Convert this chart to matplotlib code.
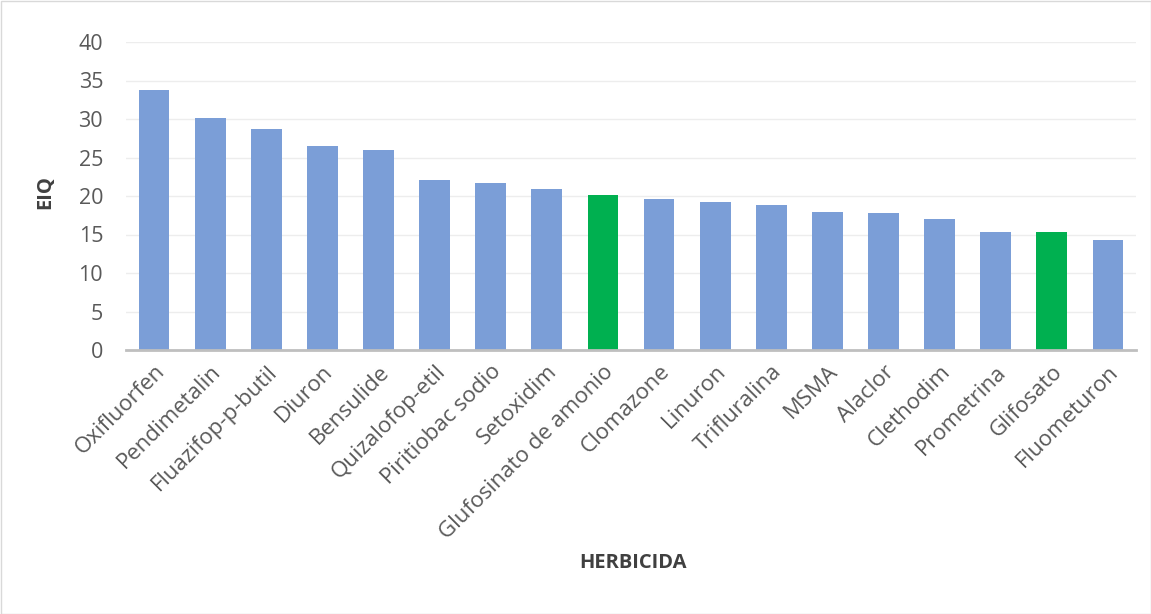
import matplotlib
matplotlib.use('Agg')
import matplotlib.pyplot as plt
from matplotlib.patches import Rectangle

# data
herbicidas = ['Oxifluorfen', 'Pendimetalin', 'Fluazifop-p-butil', 'Diuron', 'Bensulide',
              'Quizalofop-etil', 'Piritiobac sodio', 'Setoxidim', 'Glufosinato de amonio',
              'Clomazone', 'Linuron', 'Trifluralina', 'MSMA', 'Alaclor', 'Clethodim',
              'Prometrina', 'Glifosato', 'Fluometuron']
eiq = [33.8, 30.1, 28.7, 26.45, 26.0, 22.1, 21.65, 20.87, 20.13, 19.57, 19.26,
       18.79, 17.92, 17.79, 16.97, 15.32, 15.32, 14.24]
destacados = ['Glufosinato de amonio', 'Glifosato']

plt.rcParams['font.family'] = ['Open Sans', 'DejaVu Sans']

fig = plt.figure(figsize=(11.51, 6.14), dpi=100)
fig.patches.append(Rectangle((0.5/1151, 0.5/614), 1 - 1/1151, 1 - 1/614, transform=fig.transFigure,
                             fill=False, edgecolor='#D9D9D9', linewidth=1))
ax = fig.add_axes([126/1151, 1 - 350/614, (1136 - 126)/1151, (350 - 42)/614])

colors = ['#00B050' if h in destacados else '#7B9ED7' for h in herbicidas]
ax.bar(range(len(herbicidas)), eiq, width=0.55, color=colors, zorder=3)

ax.set_ylim(0, 40)
ax.set_xlim(-0.5, len(herbicidas) - 0.5)
ax.set_yticks(range(0, 41, 5))
ax.grid(axis='y', color='#EDEDED', linewidth=1, zorder=0)
for s in ['top', 'right', 'left']:
    ax.spines[s].set_visible(False)
ax.spines['bottom'].set_color('#BFBFBF')
ax.spines['bottom'].set_linewidth(2)
ax.spines['bottom'].set_zorder(4)
ax.tick_params(axis='both', length=0, colors='#595959', labelsize=15.5)
ax.tick_params(axis='y', pad=16.5)
ax.set_xticks(range(len(herbicidas)))
ax.set_xticklabels(herbicidas, rotation=45, ha='right', rotation_mode='anchor', fontsize=16)
ax.tick_params(axis='x', pad=8)

fig.text(45/1151, 1 - 192/614, 'EIQ', rotation=90, ha='center', va='center',
         fontsize=14.5, fontweight='bold', color='#404040')
fig.text(633/1151, 1 - 563/614, 'HERBICIDA', ha='center', va='center',
         fontsize=14.5, fontweight='bold', color='#404040')

plt.savefig('out.png', dpi=100)
